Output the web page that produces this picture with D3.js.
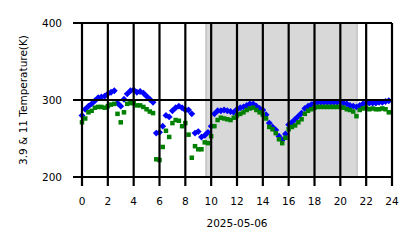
<!DOCTYPE html>
<html>
<head>
<meta charset="utf-8">
<script src="https://cdn.jsdelivr.net/npm/d3@7"></script>
<style>
  body { margin: 0; background: #fff; }
  svg text { font-family: "DejaVu Sans", sans-serif; fill: #000; }
</style>
</head>
<body>
<svg id="chart" width="418" height="248"></svg>
<script>
// hours of the day (UTC), one sample every 15 minutes
const hours = d3.range(0, 24, 0.25);

// 3.9 um brightness temperature (K)
const t39 = [
  280, 288, 292, 295, 299, 303, 304, 305, 308, 310, 312, 296,
  292, 301, 308, 312, 313, 310, 311, 309, 305, 301, 297, 257,
  258, 266, 280, 278, 286, 290, 292, 290, 287, 287, 282, 257,
  259, 252, 254, 258, 266, 282, 286, 286, 287, 286, 285, 284,
  288, 290, 291, 293, 295, 295, 292, 289, 287, 281, 270, 265,
  261, 253, 248, 256, 268, 271, 275, 279, 283, 289, 292, 294,
  296, 297, 297, 297, 297, 297, 297, 297, 297, 296, 295, 293,
  292, 291, 293, 295, 296, 296, 296, 296, 297, 297, 298, 299
];

// 11 um brightness temperature (K)
const t11 = [
  271, 276, 284, 286, 290, 291, 291, 290, 292, 294, 295, 282,
  271, 284, 295, 296, 296, 293, 293, 291, 288, 285, 283, 223,
  222, 239, 260, 252, 270, 274, 273, 266, 270, 255, 225, 240,
  236, 236, 245, 244, 253, 266, 274, 277, 276, 275, 274, 277,
  280, 282, 284, 287, 289, 290, 287, 284, 281, 276, 265, 262,
  257, 249, 244, 251, 262, 265, 267, 271, 275, 282, 286, 288,
  290, 291, 291, 291, 291, 291, 291, 291, 291, 290, 288, 287,
  285, 279, 287, 289, 290, 288, 289, 288, 288, 289, 288, 284
];

// shaded span (hours)
const shade = [9.6, 21.3];

const xTicks = d3.range(0, 25, 2);
const yTicks = [200, 300, 400];
const dateLabel = "2025-05-06";
const yLabel = "3.9 & 11 Temperature(K)";

const svg = d3.select("#chart");
const margin = { top: 23, right: 26, bottom: 71, left: 82 };
const width = 418, height = 248;

const x = d3.scaleLinear().domain([0, 24]).range([margin.left, width - margin.right]);
const y = d3.scaleLinear().domain([200, 400]).range([height - margin.bottom, margin.top]);

// shaded region
svg.append("rect")
  .attr("x", x(shade[0]))
  .attr("y", y(400))
  .attr("width", x(shade[1]) - x(shade[0]))
  .attr("height", y(200) - y(400))
  .attr("fill", "#d8d8d8")
  .attr("stroke", "#c4c4c4")
  .attr("stroke-width", 1.5);

// points
const blue = svg.append("g");
hours.forEach((h, i) => {
  blue.append("path")
    .attr("d", d3.symbol(d3.symbolDiamond2, 30)())
    .attr("transform", `translate(${x(h)},${y(t39[i])})`)
    .attr("fill", "#0000ff");
});
const green = svg.append("g");
hours.forEach((h, i) => {
  green.append("rect")
    .attr("x", x(h) - 2.25)
    .attr("y", y(t11[i]) - 2.25)
    .attr("width", 4.5)
    .attr("height", 4.5)
    .attr("fill", "#008000");
});

// grid lines on top, with outward ticks
const grid = svg.append("g").attr("stroke", "#000").attr("stroke-width", 2.2);
xTicks.forEach(t => {
  grid.append("line")
    .attr("x1", x(t)).attr("x2", x(t))
    .attr("y1", y(400)).attr("y2", y(200) + 9);
});
yTicks.forEach(t => {
  grid.append("line")
    .attr("x1", x(0) - 9).attr("x2", x(24))
    .attr("y1", y(t)).attr("y2", y(t));
});

// tick labels
svg.append("g").selectAll("text")
  .data(xTicks)
  .join("text")
  .attr("x", d => x(d))
  .attr("y", y(200) + 28)
  .attr("text-anchor", "middle")
  .attr("font-size", "10.5px")
  .text(d => d);

svg.append("g").selectAll("text")
  .data(yTicks)
  .join("text")
  .attr("x", x(0) - 20)
  .attr("y", d => y(d))
  .attr("dy", "0.36em")
  .attr("text-anchor", "end")
  .attr("font-size", "10.5px")
  .text(d => d);

svg.append("text")
  .attr("x", (x(0) + x(24)) / 2)
  .attr("y", 227)
  .attr("text-anchor", "middle")
  .attr("font-size", "10.5px")
  .text(dateLabel);

svg.append("text")
  .attr("transform", `translate(27,${(y(200) + y(400)) / 2}) rotate(-90)`)
  .attr("text-anchor", "middle")
  .attr("font-size", "10.5px")
  .text(yLabel);
</script>
</body>
</html>
